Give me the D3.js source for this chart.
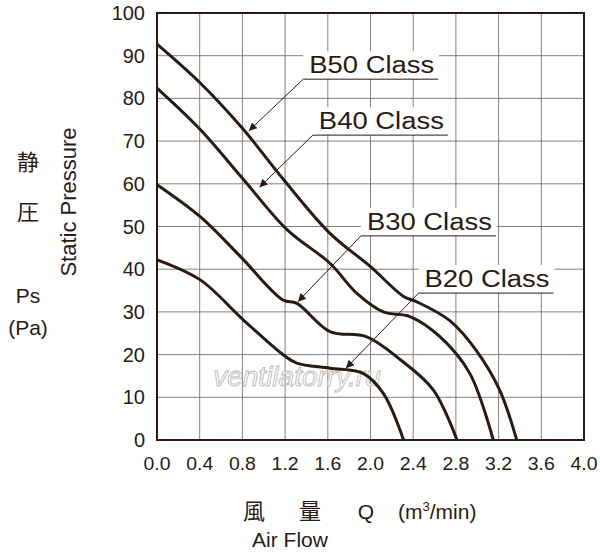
<!DOCTYPE html><html><head><meta charset="utf-8"><script src="https://cdn.jsdelivr.net/npm/d3@7"></script>
<style>body{margin:0;background:#fff}</style></head><body><svg id="c" width="600" height="558"></svg><script>
const xTicks=[0,0.4,0.8,1.2,1.6,2.0,2.4,2.8,3.2,3.6,4.0];
const yTicks=[0,10,20,30,40,50,60,70,80,90,100];
const seriesNames=["B50 Class","B40 Class","B30 Class","B20 Class"];
const b50=[[0,92.7],[0.405,83.6],[0.81,72.7],[1.185,61],[1.62,48.4],[2.0,40.6],[2.31,33.6],[2.43,32.4],[2.74,28],[2.99,21],[3.21,11.7],[3.37,0]];
const b40=[[0,82.4],[0.405,72.7],[0.81,61],[1.22,49.2],[1.62,41.4],[1.87,34.4],[2.12,30],[2.37,28.9],[2.65,24.2],[2.93,15.6],[3.15,0]];
const b30=[[0,59.8],[0.405,52.3],[0.78,43],[1.18,32.8],[1.31,32],[1.62,25.4],[1.96,24.2],[2.28,18.8],[2.59,11.7],[2.81,0]];
const b20=[[0,42.2],[0.405,37.5],[0.81,28.1],[1.185,19.9],[1.31,18],[1.62,16.8],[1.93,15.6],[2.12,10.9],[2.31,0]];
// label underline start (data units) and arrow target on the curve
const labelPos=[[1.37,84.5],[1.46,71.4],[1.91,47.8],[2.45,34.4]];
const arrowTip=[[0.86,72.4],[0.96,59.2],[1.32,32.4],[1.77,16.8]];
const series=[b50,b40,b30,b20];
const C="#2b1a12";
const svg=d3.select("#c");
const x=d3.scaleLinear().domain([0,4]).range([157,584]);
const y=d3.scaleLinear().domain([0,100]).range([440,13]);
const g=svg.append("g");
xTicks.forEach(t=>g.append("line").attr("x1",x(t)).attr("x2",x(t)).attr("y1",y(0)).attr("y2",y(100)).attr("stroke","#6b5d55").attr("stroke-width",0.8));
yTicks.forEach(t=>g.append("line").attr("y1",y(t)).attr("y2",y(t)).attr("x1",x(0)).attr("x2",x(4)).attr("stroke","#6b5d55").attr("stroke-width",0.8));
g.append("rect").attr("x",x(0)).attr("y",y(100)).attr("width",x(4)-x(0)).attr("height",y(0)-y(100)).attr("fill","none").attr("stroke",C).attr("stroke-width",2);
svg.append("text").attr("x",297).attr("y",386).attr("text-anchor","middle").attr("font-family","Liberation Sans").attr("font-style","italic").attr("font-size",28).attr("fill","#fff").attr("stroke","#bbb").attr("stroke-width",0.9).text("ventilatorry.ru");
const line=d3.line().x(d=>x(d[0])).y(d=>y(d[1])).curve(d3.curveCatmullRom.alpha(0.5));
series.forEach(s=>svg.append("path").attr("d",line(s)).attr("fill","none").attr("stroke",C).attr("stroke-width",3));
svg.append("defs").append("marker").attr("id","ar").attr("viewBox","0 0 10 10").attr("refX",10).attr("refY",5).attr("markerWidth",10).attr("markerHeight",8).attr("orient","auto").attr("markerUnits","userSpaceOnUse").append("path").attr("d","M0,0L10,5L0,10z").attr("fill",C);
seriesNames.forEach((n,i)=>{
 const lx=x(labelPos[i][0]), ly=y(labelPos[i][1]);
 svg.append("rect").attr("x",lx).attr("y",ly-28).attr("width",136).attr("height",28).attr("fill","#fff");
 svg.append("text").attr("x",lx+6).attr("y",ly-6).attr("font-family","Liberation Sans").attr("font-size",23).attr("textLength",125).attr("lengthAdjust","spacingAndGlyphs").attr("fill",C).text(n);
 svg.append("line").attr("x1",lx).attr("x2",lx+135).attr("y1",ly).attr("y2",ly).attr("stroke",C).attr("stroke-width",1);
 svg.append("line").attr("x1",lx).attr("y1",ly).attr("x2",x(arrowTip[i][0])).attr("y2",y(arrowTip[i][1])).attr("stroke",C).attr("stroke-width",1).attr("marker-end","url(#ar)");
});
yTicks.forEach(t=>svg.append("text").attr("x",145).attr("y",y(t)+7).attr("text-anchor","end").attr("font-family","Liberation Sans").attr("font-size",20).attr("fill",C).text(t));
xTicks.forEach(t=>svg.append("text").attr("x",x(t)).attr("y",470).attr("text-anchor","middle").attr("font-family","Liberation Sans").attr("font-size",18).attr("textLength",27).attr("lengthAdjust","spacingAndGlyphs").attr("fill",C).text(t.toFixed(1)));
const lab=(tx,xx,yy,fs,fam)=>svg.append("text").attr("x",xx).attr("y",yy).attr("text-anchor","middle").attr("font-family",fam||"Liberation Sans").attr("font-size",fs).attr("fill",C).text(tx);
lab("静",28,170,22,"Noto Sans CJK JP");lab("圧",28,220,22,"Noto Sans CJK JP");
lab("Ps",28,303,21);lab("(Pa)",28,335,21);
svg.append("text").attr("transform","translate(76,202) rotate(-90)").attr("text-anchor","middle").attr("font-family","Liberation Sans").attr("font-size",22).attr("fill",C).text("Static Pressure");
lab("風",254,519,22,"Noto Sans CJK JP");lab("量",310,519,22,"Noto Sans CJK JP");lab("Q",366,519,21);
const t=svg.append("text").attr("x",398).attr("y",519).attr("font-family","Liberation Sans").attr("font-size",21).attr("fill",C);
t.append("tspan").text("(m");t.append("tspan").attr("font-size",13).attr("dy",-8).text("3");t.append("tspan").attr("dy",8).text("/min)");
lab("Air Flow",290,547,21);
</script></body></html>
